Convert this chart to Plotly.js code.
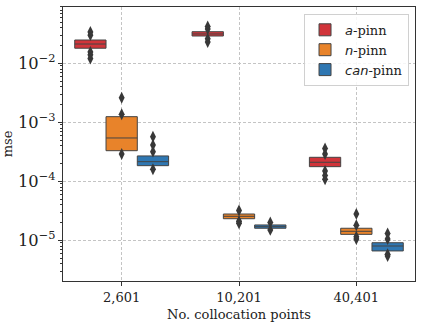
<!DOCTYPE html>
<html>
<head>
<meta charset="utf-8">
<script src="https://cdn.plot.ly/plotly-3.0.1.min.js"></script>
<style>
  html, body { margin: 0; padding: 0; background: #fff; }
  #chart { width: 423px; height: 326px; }
</style>
</head>
<body>
<div id="chart"></div>
<script>
// collocation point counts (x categories)
var points = ['2,601', '10,201', '40,401'];

// box stats (mse, log scale)
var aQ1 = [0.0180, 0.0290, 1.77e-4];
var aMed = [0.0212, 0.0314, 2.10e-4];
var aQ3 = [0.0248, 0.0343, 2.55e-4];

var nQ1 = [3.30e-4, 2.32e-5, 1.26e-5];
var nMed = [5.42e-4, 2.55e-5, 1.42e-5];
var nQ3 = [1.245e-3, 2.79e-5, 1.60e-5];

var cQ1 = [1.84e-4, 1.60e-5, 6.6e-6];
var cMed = [2.15e-4, 1.70e-5, 8.0e-6];
var cQ3 = [2.69e-4, 1.82e-5, 9.1e-6];

// outlying points (diamonds)
var aOutX = ['2,601', '2,601', '2,601', '2,601', '2,601',
             '10,201', '10,201', '10,201', '10,201',
             '40,401', '40,401', '40,401', '40,401', '40,401'];
var aOutY = [0.034, 0.030, 0.0156, 0.0139, 0.0120,
             0.042, 0.038, 0.026, 0.023,
             3.6e-4, 2.9e-4, 1.5e-4, 1.25e-4, 1.08e-4];

var nOutX = ['2,601', '2,601', '2,601',
             '10,201', '10,201', '10,201',
             '40,401', '40,401', '40,401', '40,401'];
var nOutY = [2.61e-3, 1.37e-3, 2.9e-4,
             3.2e-5, 2.1e-5, 1.95e-5,
             2.8e-5, 1.8e-5, 1.15e-5, 1.05e-5];

var cOutX = ['2,601', '2,601', '2,601', '2,601',
             '10,201', '10,201',
             '40,401', '40,401', '40,401', '40,401'];
var cOutY = [5.7e-4, 4.12e-4, 3.18e-4, 1.6e-4,
             2.0e-5, 1.5e-5,
             1.3e-5, 1.05e-5, 5.8e-6, 5.4e-6];

var colors = ['#d1343a', '#e8832a', '#2f77b2'];
var edge = '#444444';
var serif = 'DejaVu Serif, serif';

function boxTrace(name, q1, med, q3, col) {
    return {
        type: 'box',
        name: name,
        x: points,
        q1: q1,
        median: med,
        q3: q3,
        lowerfence: q1,
        upperfence: q3,
        fillcolor: col,
        line: {color: edge, width: 1},
        whiskerwidth: 0,
        boxpoints: false,
        hoverinfo: 'skip'
    };
}

function outTrace(key, xs, ys) {
    return {
        type: 'scatter',
        mode: 'markers',
        x: xs,
        y: ys,
        alignmentgroup: 'out',
        offsetgroup: key,
        showlegend: false,
        hoverinfo: 'skip',
        marker: {symbol: 'diamond-tall', size: 8.5, color: '#383838',
                 line: {width: 0}}
    };
}

var sansI = function (s) {
    return '<span style="font-family:DejaVu Sans"><i>' + s + '</i></span>';
};

var data = [
    boxTrace(sansI('a') + '-pinn', aQ1, aMed, aQ3, colors[0]),
    boxTrace(sansI('n') + '-pinn', nQ1, nMed, nQ3, colors[1]),
    boxTrace(sansI('can') + '-pinn', cQ1, cMed, cQ3, colors[2]),
    outTrace('a', aOutX, aOutY),
    outTrace('n', nOutX, nOutY),
    outTrace('c', cOutX, cOutY)
];

var gridDash = '3px,2px';

var layout = {
    width: 423,
    height: 326,
    margin: {l: 63, r: 8, t: 7, b: 45},
    paper_bgcolor: '#fff',
    plot_bgcolor: '#fff',
    font: {family: serif, size: 13, color: '#222'},
    boxmode: 'group',
    boxgap: 0.2,
    boxgroupgap: 0,
    scattermode: 'group',
    scattergap: 0.2,
    showlegend: true,
    legend: {
        x: 0.983, y: 0.975, xanchor: 'right', yanchor: 'top',
        bgcolor: 'rgba(255,255,255,0.85)',
        bordercolor: '#d0d0d0', borderwidth: 1,
        font: {family: serif, size: 13, color: '#222'},
        tracegroupgap: 2
    },
    xaxis: {
        type: 'category',
        range: [-0.5, 2.5],
        title: {text: 'No. collocation points', font: {size: 13}, standoff: 6},
        showline: true, mirror: true, linecolor: '#333', linewidth: 1,
        ticks: 'outside', ticklen: 4, tickcolor: '#333',
        showgrid: true, gridcolor: '#c4c4c4', griddash: gridDash, gridwidth: 1,
        zeroline: false,
        tickfont: {size: 13}
    },
    yaxis: {
        type: 'log',
        range: [-5.69, -1.046],
        dtick: 1,
        exponentformat: 'power',
        showexponent: 'all',
        title: {text: 'mse', font: {size: 13}, standoff: 6},
        showline: true, mirror: true, linecolor: '#333', linewidth: 1,
        ticks: 'outside', ticklen: 4, tickcolor: '#333',
        showgrid: true, gridcolor: '#c4c4c4', griddash: gridDash, gridwidth: 1,
        zeroline: false,
        tickfont: {size: 13},
        minor: {dtick: 'D1', ticks: 'outside', ticklen: 2, tickcolor: '#333', showgrid: false}
    }
};

Plotly.newPlot('chart', data, layout, {staticPlot: true, displayModeBar: false});
</script>
</body>
</html>
